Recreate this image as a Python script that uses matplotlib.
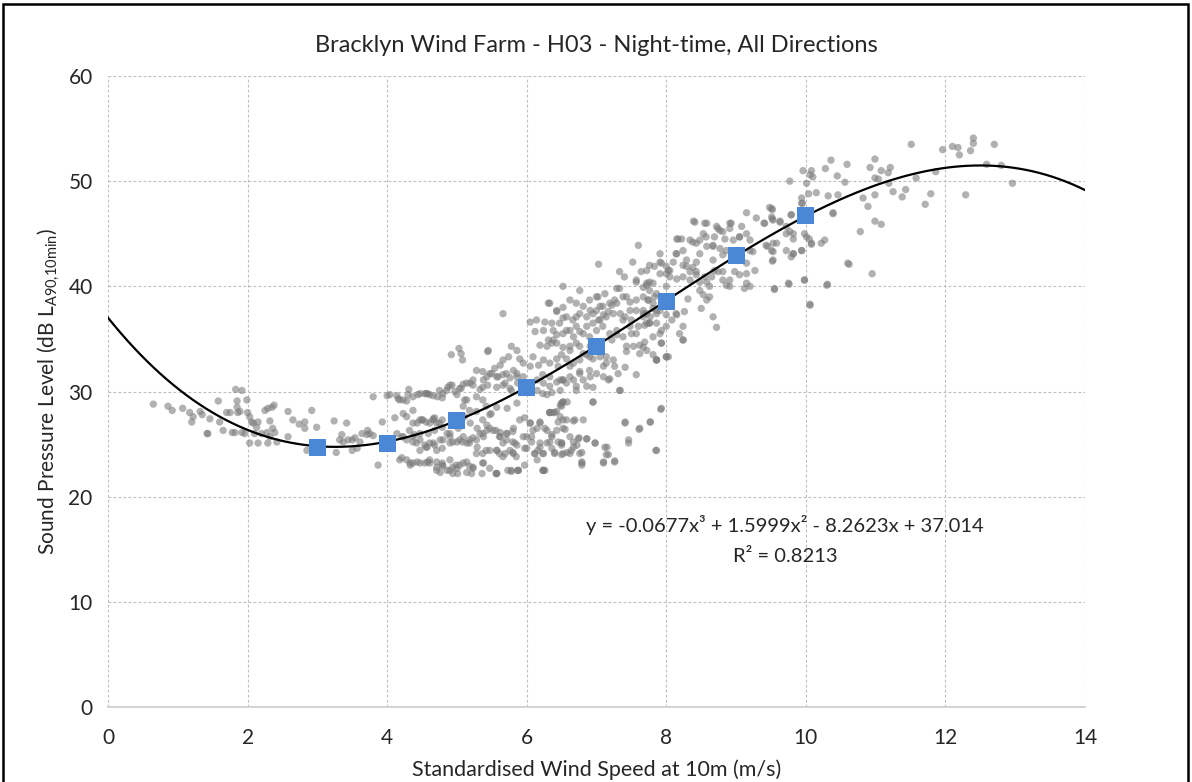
import numpy as np
import matplotlib
matplotlib.use("Agg")
import matplotlib.pyplot as plt
from matplotlib.patches import Rectangle

# fitted trendline coefficients (from chart label), highest power first
FIT_COEFFS = [-0.0677, 1.5999, -8.2623, 37.014]
R_SQUARED = 0.8213

# bin averages (blue squares)
bin_ws = [3, 4, 5, 6, 7, 8, 9, 10]
bin_spl = [24.7, 25.1, 27.2, 30.4, 34.3, 38.6, 42.9, 46.7]

pts_below_4 = [
    (0.65, 28.8), (0.86, 28.6), (0.92, 28.2), (1.07, 28.4), (1.17, 28.0), (1.22, 27.6), (1.2, 27.1),
    (1.32, 28.1), (1.35, 27.8), (1.46, 27.4), (1.42, 26.0), (1.43, 26.0), (1.58, 29.1), (1.6, 27.1),
    (1.65, 26.3), (1.7, 28.0), (1.75, 28.0), (1.78, 26.1), (1.82, 26.1), (1.85, 29.1), (1.85, 28.5),
    (1.86, 28.0), (1.89, 28.1), (1.83, 30.2), (1.92, 30.1), (1.92, 26.1), (1.96, 26.0), (1.99, 29.2),
    (2.0, 28.0), (2.03, 27.6), (2.06, 27.1), (2.08, 27.0), (2.15, 27.1), (2.13, 26.6), (2.03, 25.1),
    (2.15, 25.1), (2.1, 26.0), (2.2, 26.0), (2.28, 26.1), (2.32, 25.7), (2.36, 26.5), (2.39, 26.1),
    (2.25, 28.2), (2.29, 28.4), (2.35, 28.5), (2.38, 28.7), (2.32, 27.2), (2.29, 25.1), (2.42, 25.2),
    (2.58, 28.1), (2.65, 27.3), (2.58, 25.7), (2.74, 26.9), (2.82, 27.1), (2.82, 26.5), (2.92, 28.2),
    (2.85, 24.4), (2.99, 26.6), (3.24, 27.2), (3.42, 27.0), (3.27, 24.2), (3.35, 25.9), (3.32, 25.4),
    (3.37, 25.2), (3.44, 25.4), (3.5, 25.4), (3.54, 25.6), (3.61, 25.2), (3.64, 26.0), (3.71, 25.9),
    (3.72, 26.3), (3.75, 26.0), (3.8, 25.8), (3.5, 24.4), (3.57, 24.6), (3.8, 29.5), (3.87, 23.0),
    (3.93, 27.1),
]

pts_4_to_5 = [
    (4.0, 29.6), (4.14, 29.6), (4.16, 29.3), (4.28, 29.1), (4.31, 30.2), (4.44, 29.7), (4.54, 29.8),
    (4.58, 29.8), (4.66, 29.6), (4.72, 29.5), (4.8, 29.8), (4.87, 30.4), (4.93, 30.6), (5.04, 30.3),
    (5.09, 30.7), (5.19, 30.8), (5.23, 30.6), (5.33, 30.2), (5.37, 30.4), (5.44, 30.6),
    (4.11, 27.5), (4.23, 27.9), (4.43, 27.0), (4.5, 27.3), (4.66, 27.3), (4.71, 27.0), (4.79, 26.6),
    (4.86, 26.0), (4.14, 26.0), (4.21, 25.7), (4.32, 26.3), (4.39, 25.9), (4.47, 25.4), (4.54, 24.9),
    (4.61, 25.1), (4.68, 24.9), (4.76, 25.4), (4.9, 25.7), (4.94, 25.2), (5.04, 25.4), (5.14, 25.1),
    (5.23, 25.6), (5.33, 26.0), (5.43, 26.3),
    (4.21, 23.7), (4.33, 23.2), (4.43, 23.3), (4.54, 23.2), (4.61, 23.5), (4.71, 23.3), (4.79, 23.2),
    (4.9, 23.5), (4.94, 22.8), (5.04, 23.0), (5.14, 23.3), (5.23, 22.7), (5.37, 23.2), (5.47, 22.7),
    (4.76, 22.3), (4.86, 22.5), (5.01, 22.2),
    (4.04, 29.7), (4.23, 29.2), (4.47, 29.8), (4.61, 29.7), (4.79, 29.4), (4.9, 30.6), (5.0, 29.7),
    (5.11, 29.2), (4.37, 28.2), (4.51, 27.3), (4.61, 27.0), (4.68, 27.5), (4.79, 27.3), (5.11, 27.6),
    (5.19, 27.0), (5.29, 26.5), (5.37, 27.3), (5.47, 27.8),
    (4.23, 25.7), (4.37, 25.2), (4.47, 24.4), (4.57, 24.7), (4.71, 24.4), (4.79, 24.6), (4.9, 25.1),
    (5.0, 25.2), (5.08, 25.2), (5.18, 25.4), (5.29, 24.7), (5.37, 24.1), (5.47, 24.4),
    (4.18, 23.5), (4.33, 23.0), (4.47, 23.2), (4.58, 23.3), (4.71, 22.8), (4.79, 23.0), (4.9, 22.5),
    (5.0, 22.7), (5.14, 22.3), (5.23, 22.8), (5.36, 22.2),
    (4.92, 33.5), (5.03, 34.1), (5.06, 33.6), (5.08, 33.0), (5.45, 33.9), (5.28, 32.0), (5.37, 31.9),
    (5.47, 31.7), (5.23, 31.1), (5.14, 30.8), (5.06, 30.3), (4.97, 30.0), (4.85, 30.1), (4.75, 30.1),
    (4.56, 29.8), (4.37, 29.5), (4.3, 29.7), (4.18, 29.2), (5.14, 29.2), (5.28, 29.5), (5.37, 29.2),
    (5.18, 28.2), (5.28, 28.1), (5.09, 28.6), (5.42, 28.6), (5.49, 27.9),
    (4.28, 27.6), (4.37, 27.0), (4.47, 27.3), (4.56, 27.1), (4.66, 27.4), (4.75, 27.0), (4.68, 26.3),
    (4.59, 26.0), (4.47, 26.0), (4.37, 25.7), (4.28, 25.4), (4.42, 25.1), (4.56, 24.7), (4.66, 25.1),
    (4.8, 25.4), (4.9, 26.0), (5.02, 26.5), (5.09, 25.7), (5.18, 25.1), (5.28, 25.4), (5.37, 26.0),
    (5.47, 26.5), (4.28, 23.5), (4.37, 23.2), (4.61, 23.2), (4.71, 22.5), (4.8, 22.9), (4.99, 23.0),
    (5.09, 23.2), (5.18, 22.9), (5.21, 22.2), (4.94, 22.2), (5.28, 24.1), (5.42, 24.4),
]

pts_5_to_6 = [
    (5.57, 31.4), (5.66, 31.6), (5.76, 31.3), (5.86, 31.7), (5.95, 31.4), (6.15, 31.1), (6.23, 31.6),
    (6.33, 31.4), (6.43, 30.9), (5.57, 30.4), (5.66, 30.6), (5.76, 30.3), (5.87, 30.8), (6.15, 30.1),
    (6.23, 29.8), (6.36, 29.9), (6.48, 30.1), (6.5, 28.9), (6.58, 29.0),
    (5.57, 28.5), (5.72, 28.4), (5.86, 28.9), (5.97, 27.5), (6.05, 27.0), (6.15, 26.5), (6.19, 27.1),
    (6.26, 26.5), (6.33, 28.0), (6.38, 28.0), (6.45, 27.1), (6.52, 27.3),
    (5.62, 26.1), (5.72, 26.0), (5.8, 25.2), (5.86, 24.9), (6.0, 25.7), (6.07, 25.2), (6.16, 24.4),
    (6.23, 24.1), (6.36, 24.6), (6.45, 25.2), (6.5, 24.9), (6.58, 24.2),
    (5.57, 24.4), (5.66, 23.8), (5.8, 24.2), (5.97, 23.0), (6.15, 23.5), (6.26, 22.5), (5.87, 22.5),
    (5.73, 22.5), (5.57, 22.2), (5.56, 26.3), (5.61, 25.7), (5.71, 25.4), (5.8, 26.2), (5.56, 22.2),
    (5.78, 22.5), (5.88, 22.5), (6.23, 22.5), (5.61, 24.1), (5.76, 24.4), (5.85, 23.8), (5.97, 24.6),
    (6.11, 24.1), (6.19, 24.7),
]

pts_6_to_7 = [
    (5.66, 37.4), (5.44, 33.8), (6.05, 36.6), (6.14, 36.8), (6.26, 36.6), (6.36, 36.5), (6.12, 35.7),
    (6.24, 35.8), (6.31, 34.9), (6.36, 34.6), (6.43, 35.4), (6.52, 37.0), (6.57, 35.8), (6.67, 35.2),
    (6.71, 37.1), (6.76, 35.7), (6.86, 36.2), (6.91, 37.7), (6.95, 37.4), (7.03, 36.8), (7.05, 38.1),
    (7.1, 37.3), (7.17, 37.6), (7.22, 38.2), (7.29, 38.4), (7.34, 37.4), (7.41, 37.1), (7.48, 38.5),
    (7.5, 36.8), (7.57, 37.7), (7.67, 37.4), (7.72, 36.5), (7.77, 37.1), (7.81, 38.4), (7.86, 37.4),
    (7.93, 35.8), (8.0, 36.2), (8.08, 36.8), (8.15, 37.3), (7.6, 36.2), (7.5, 35.5), (7.38, 35.2),
    (7.29, 35.4), (7.22, 34.9), (7.43, 33.8), (7.53, 34.3), (7.62, 34.4), (7.72, 33.9), (7.81, 33.5),
    (7.86, 33.0), (7.93, 34.6), (8.03, 33.3), (7.41, 32.3), (7.31, 31.7), (7.19, 31.2), (7.1, 31.4),
    (7.0, 31.7), (6.91, 31.4), (6.81, 31.1), (6.76, 31.9), (6.67, 31.1), (6.57, 30.8), (6.48, 31.1),
    (6.45, 32.4), (6.43, 33.1), (6.33, 32.7), (6.24, 33.0), (6.17, 32.5), (6.09, 33.3), (6.05, 32.4),
    (5.95, 32.7), (5.9, 33.1), (5.86, 33.9), (5.78, 34.3), (5.74, 33.3), (5.66, 33.0), (5.62, 32.5),
    (5.54, 32.2), (5.5, 31.7), (5.43, 31.4), (5.38, 31.1), (5.59, 31.4), (5.71, 31.7), (5.81, 32.0),
    (5.86, 31.4), (5.69, 30.8), (5.78, 30.1), (6.24, 30.8), (6.33, 30.5), (6.52, 31.1), (6.62, 31.4),
    (6.71, 30.5), (6.86, 30.5), (6.38, 34.9), (6.19, 34.4), (6.29, 34.3), (6.5, 33.5), (6.57, 33.1),
    (6.67, 32.7), (6.76, 33.0), (6.86, 33.5), (6.95, 33.1), (6.62, 34.3), (6.76, 34.3), (6.91, 34.3),
    (7.05, 33.8), (7.14, 33.3), (7.24, 33.0), (7.1, 32.4), (7.26, 32.4),
    (6.52, 40.0), (6.76, 39.6), (7.0, 39.0), (7.29, 39.8), (7.38, 39.0), (7.57, 40.4), (7.72, 40.1),
    (7.81, 40.3), (8.0, 40.0), (6.31, 38.4), (6.43, 37.6),
    (6.29, 29.7), (6.48, 28.7), (6.52, 29.0), (6.33, 28.0), (6.43, 28.1), (6.57, 27.3), (6.69, 27.3),
    (6.95, 29.0), (6.05, 27.0), (6.09, 26.3), (6.19, 27.0), (5.9, 27.3), (5.81, 26.5), (5.71, 26.0),
    (5.62, 25.7), (5.52, 26.3), (5.43, 26.8), (5.38, 25.7), (5.66, 25.1), (5.83, 25.1), (5.95, 25.7),
    (6.07, 25.7), (6.19, 25.1), (6.36, 25.7), (6.29, 25.1), (6.5, 25.1), (6.62, 25.7), (6.74, 25.5),
    (6.86, 25.5), (6.98, 25.1), (6.67, 24.7), (6.76, 24.1), (6.79, 23.2), (6.62, 24.1), (6.52, 24.1),
    (6.4, 24.1), (6.24, 24.1), (6.12, 24.1), (6.0, 24.6), (5.81, 24.1), (5.69, 24.1), (5.57, 24.4),
    (5.38, 23.2), (5.57, 22.2), (5.78, 22.4), (5.88, 22.5), (6.24, 22.5), (7.12, 24.7), (7.14, 24.0),
    (7.1, 23.2), (7.26, 23.3), (7.41, 27.1), (7.62, 26.5), (7.77, 27.1), (7.46, 25.1), (7.86, 24.4),
    (7.93, 28.4), (6.52, 26.5), (6.81, 27.3), (6.48, 27.6),
    (7.34, 30.1), (6.95, 29.0), (6.52, 29.0), (6.5, 28.6), (6.33, 28.0), (6.4, 28.0), (6.67, 27.2),
    (7.41, 27.0), (7.77, 27.1), (7.92, 28.3), (7.61, 26.4), (7.46, 25.4), (7.85, 24.4), (7.15, 24.7),
    (7.17, 24.0), (7.26, 23.4), (7.1, 23.3), (6.79, 23.3), (6.79, 23.0), (6.98, 25.1), (6.86, 25.5),
    (6.75, 25.6), (6.67, 25.2), (6.72, 24.9), (6.64, 24.4), (6.79, 24.2), (6.5, 24.0), (6.4, 24.2),
    (6.55, 26.4), (6.43, 26.3), (6.36, 25.9), (6.29, 26.3), (6.24, 22.5), (6.5, 25.1), (6.33, 25.2),
]

pts_7_to_8 = [
    (7.33, 41.4), (7.4, 40.9), (7.52, 42.3), (7.64, 41.4), (7.76, 42.0), (7.91, 43.1), (8.0, 41.9),
    (8.17, 44.5), (8.24, 43.4), (8.43, 44.1), (8.57, 44.7), (8.67, 43.8), (8.81, 45.2), (8.93, 46.0),
    (9.05, 44.7), (9.2, 44.4), (7.33, 39.8), (7.43, 39.0), (7.26, 38.7), (7.12, 39.3), (7.02, 39.0),
    (7.57, 40.6), (7.67, 39.9), (7.76, 40.4), (7.86, 39.3), (7.74, 38.7), (8.03, 41.5), (8.05, 40.9),
    (8.14, 43.1), (8.29, 41.9), (8.34, 40.6), (8.43, 41.4), (8.55, 40.9), (8.67, 42.5), (8.74, 41.4),
    (8.81, 40.6), (8.91, 40.0), (8.98, 41.4), (9.08, 42.5), (9.15, 40.3), (9.2, 40.0), (8.14, 37.4),
    (8.24, 36.2), (8.24, 34.9), (8.0, 33.3), (7.86, 33.0), (7.57, 31.6), (7.33, 30.1), (7.03, 42.1),
    (7.6, 43.9), (8.39, 46.2), (8.55, 46.0), (8.72, 45.7),
    (6.33, 38.4), (6.43, 37.7), (6.52, 38.0), (6.62, 38.7), (6.71, 38.4), (6.81, 38.1), (6.9, 38.7),
    (7.0, 37.7), (7.09, 38.1), (7.19, 38.4), (7.24, 37.4), (7.14, 37.1), (7.05, 36.8), (6.95, 36.5),
    (6.86, 37.1), (6.76, 37.4), (6.66, 36.8), (6.57, 37.1), (6.47, 36.5), (6.38, 35.8), (6.52, 35.5),
    (6.62, 35.8), (6.71, 36.2), (6.81, 35.5), (6.9, 35.2), (7.0, 35.8), (7.09, 36.2), (7.19, 35.5),
    (7.29, 35.8), (7.38, 36.8), (7.48, 37.7), (7.57, 38.7), (7.48, 36.2), (7.57, 35.5), (7.67, 37.1),
    (7.76, 36.5), (7.86, 37.7), (6.43, 34.6), (6.52, 34.2), (6.62, 33.9), (6.71, 34.6), (6.81, 33.6),
    (6.9, 33.3), (7.05, 33.3), (7.14, 32.7), (6.62, 32.4), (6.76, 31.7), (6.9, 32.0), (6.52, 31.1),
    (6.71, 30.1), (6.95, 30.4), (7.17, 31.1), (7.43, 34.3), (7.62, 33.6),
]

pts_8_to_10 = [
    (9.94, 47.9), (9.51, 47.4), (9.29, 46.5), (9.15, 47.0), (9.53, 46.3), (9.41, 46.0), (9.63, 46.1),
    (9.72, 45.7), (9.79, 46.8), (8.91, 46.0), (9.08, 45.7), (8.77, 45.3), (8.74, 45.5), (8.91, 45.5),
    (8.58, 46.0), (8.41, 46.1), (8.53, 45.0), (8.69, 44.7), (8.84, 44.5), (8.96, 44.4), (9.05, 44.7),
    (9.15, 45.0), (8.15, 44.5), (8.22, 44.5), (8.34, 44.4), (8.38, 44.2), (8.48, 44.4), (8.58, 43.8),
    (8.67, 43.9), (8.77, 43.6), (8.86, 43.4), (8.81, 43.0), (9.43, 43.9), (9.51, 43.4), (9.53, 42.5),
    (9.58, 44.1), (9.72, 43.4), (9.82, 43.1), (9.94, 43.4), (10.01, 44.7), (10.08, 44.1), (9.82, 45.0),
    (9.2, 43.4), (9.24, 43.3), (9.15, 42.2), (9.27, 41.5), (9.05, 41.1), (9.15, 41.2), (8.91, 40.6),
    (8.86, 40.1), (8.81, 41.4), (8.69, 41.5), (8.65, 40.9), (8.48, 43.1), (8.43, 42.3), (8.38, 41.8),
    (8.29, 42.5), (8.24, 42.0), (8.15, 43.1), (8.1, 42.3), (8.05, 41.5), (8.0, 41.2), (7.91, 41.2),
    (7.83, 41.9), (7.72, 41.5), (7.91, 42.3), (7.93, 42.2), (8.34, 41.4), (8.43, 41.1), (8.24, 40.9),
    (8.15, 40.7), (8.48, 40.4), (8.58, 40.4), (8.62, 40.0), (8.48, 39.6), (8.53, 39.2), (8.58, 38.7),
    (8.62, 39.0), (8.31, 38.8), (8.26, 37.6), (8.5, 37.9), (8.67, 37.1), (8.72, 36.1), (8.19, 35.5),
    (8.24, 34.9), (8.0, 37.3), (7.91, 37.7), (7.81, 37.9), (7.72, 37.4), (7.67, 37.7), (7.86, 36.5),
    (7.76, 36.5), (7.69, 36.3), (7.91, 35.5), (7.81, 35.2), (7.69, 34.7), (7.93, 34.6), (7.67, 34.2),
    (8.0, 33.3), (7.86, 33.0), (7.72, 40.3), (7.76, 39.6), (7.67, 39.0), (7.83, 39.0), (7.74, 38.7),
    (9.98, 40.6), (10.06, 38.2), (9.75, 40.3), (9.55, 39.8), (9.12, 39.8), (9.48, 47.5), (9.51, 46.6),
]

pts_above_10 = [
    (11.51, 53.5), (11.96, 53.0), (12.1, 53.3), (12.18, 53.2), (12.2, 52.5), (10.99, 52.1), (10.92, 51.3),
    (11.08, 51.0), (11.18, 50.8), (11.21, 51.3), (10.99, 50.3), (11.04, 50.2), (11.19, 49.8), (11.25, 49.0),
    (11.43, 49.2), (11.38, 48.5), (11.58, 50.3), (11.79, 48.8), (11.71, 47.8), (11.86, 50.9),
    (10.36, 52.0), (10.59, 51.6), (10.28, 51.2), (10.45, 50.5), (10.56, 49.9), (10.15, 48.9), (10.32, 48.6),
    (10.46, 48.7), (10.39, 47.0), (10.82, 48.4), (10.99, 48.7), (10.89, 47.6), (10.99, 46.2), (11.08, 45.9),
    (10.78, 45.2), (9.96, 51.0), (10.08, 51.0), (10.06, 50.6), (10.1, 50.4), (10.01, 49.8), (10.04, 48.8),
    (9.77, 50.0), (9.94, 48.4), (9.95, 47.9), (9.79, 46.8), (9.52, 47.3), (9.4, 46.0), (9.52, 46.4),
    (9.63, 46.2), (9.72, 45.0), (9.77, 45.2), (9.82, 44.5), (9.98, 45.0), (10.05, 44.5), (10.08, 44.0),
    (10.22, 44.1), (10.27, 44.4), (9.94, 43.4), (9.82, 43.1), (9.79, 42.8), (9.53, 44.1), (9.45, 43.8),
    (9.53, 43.3), (9.52, 42.4), (10.62, 42.1), (10.95, 41.2), (10.31, 40.2), (9.98, 40.6), (9.76, 40.2),
    (9.55, 39.7), (10.06, 38.3), (12.4, 54.1), (12.4, 53.6), (12.7, 53.5), (12.59, 51.6), (12.8, 51.5),
    (12.96, 49.8), (12.29, 48.7), (12.36, 52.9), (10.39, 46.9), (10.6, 42.2), (10.3, 40.1),
]

TITLE = "Bracklyn Wind Farm - H03 - Night-time, All Directions"
X_LABEL = "Standardised Wind Speed at 10m (m/s)"
Y_LABEL = r"Sound Pressure Level (dB L$_{\mathregular{A90{,}10min}}$)"

plt.rcParams['font.family'] = ['Lato', 'DejaVu Sans']
TXT = '#262626'

all_pts = np.array(pts_below_4 + pts_4_to_5 + pts_5_to_6 + pts_6_to_7
                   + pts_7_to_8 + pts_8_to_10 + pts_above_10)

fig = plt.figure(figsize=(11.92, 7.82), dpi=100)
ax = fig.add_axes([108/1192, 1-707/782, (1085-108)/1192, (707-76)/782])

ax.scatter(all_pts[:, 0], all_pts[:, 1], s=28, color='#7a7a7a', alpha=0.58,
           edgecolors='none', zorder=2)

xfit = np.linspace(0, 14, 300)
ax.plot(xfit, np.polyval(FIT_COEFFS, xfit), color='black', lw=1.6, zorder=3)

ax.scatter(bin_ws, bin_spl, marker='s', s=150, color='#4a88d6', edgecolors='none', zorder=4)

eq = "y = %.4fx³ + %.4fx² - %.4fx + %.3f" % (FIT_COEFFS[0], FIT_COEFFS[1], -FIT_COEFFS[2], FIT_COEFFS[3])
ax.text(9.7, 17.3, eq, ha='center', va='center', fontsize=14.5, color=TXT)
ax.text(9.7, 14.3, "R² = %.4f" % R_SQUARED, ha='center', va='center', fontsize=14.5, color=TXT)

ax.set_xlim(0, 14)
ax.set_ylim(0, 60)
ax.set_xticks(np.arange(0, 15, 2))
ax.set_yticks(np.arange(0, 61, 10))
ax.grid(True, color='#bdbdbd', lw=0.8, ls=(0, (2.5, 2)))
ax.set_axisbelow(True)
for s in ['top', 'right', 'left']:
    ax.spines[s].set_visible(False)
ax.spines['bottom'].set_color('#d0d0d0')
ax.spines['bottom'].set_linewidth(1.3)
ax.spines['bottom'].set_zorder(1)
ax.tick_params(length=0, labelsize=15, colors=TXT)
ax.tick_params(axis='x', pad=15)
ax.tick_params(axis='y', pad=11)

ax.set_xlabel(X_LABEL, fontsize=15.5, color=TXT, labelpad=8)
ax.set_ylabel(Y_LABEL, fontsize=15, color=TXT, labelpad=5)
fig.text(0.5, 1-45/782, TITLE, ha='center', va='center', fontsize=17, color=TXT)

# outer chart frame
fig.patches.append(Rectangle((3/1192, -0.05), (1188-3)/1192, 1.05-4/782,
                             transform=fig.transFigure, fill=False, ec='black', lw=1.8))

fig.savefig("out.png", dpi=100)
